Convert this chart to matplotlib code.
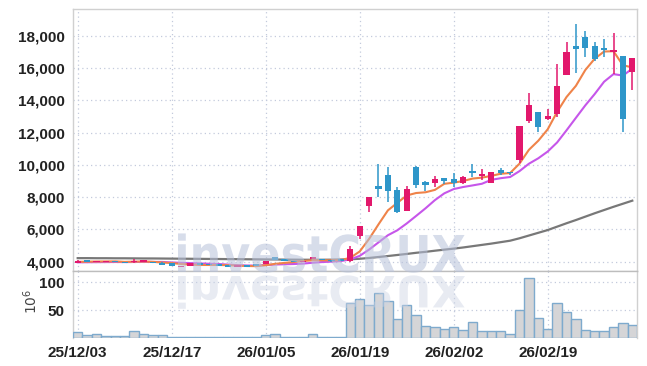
import numpy as np
import matplotlib
matplotlib.use("Agg")
import matplotlib.pyplot as plt
from matplotlib import font_manager
from matplotlib.textpath import TextPath
from matplotlib.patches import PathPatch
from matplotlib.font_manager import FontProperties
from matplotlib.transforms import Affine2D

# daily OHLC (KRW), 60 sessions
opens = [3900, 4100, 3960, 3970, 4020, 4000, 3950, 4000, 4000, 3940,
         3900, 3650, 3730, 3900, 3850, 3830, 3770, 3650, 3770, 3800,
         3860, 4270, 4150, 4040, 3980, 4150, 4150, 4100, 4150, 4050,
         5590, 7450, 8690, 9370, 8440, 7160, 9890, 8960, 8890, 9180,
         9100, 8850, 9620, 9310, 8900, 9680, 9520, 10300, 12730, 13250,
         12840, 13150, 15570, 17360, 17900, 17360, 17240, 17010, 16740, 15730]
highs = [4080, 4110, 4070, 4040, 4040, 4010, 4150, 4110, 4010, 3950,
         3910, 3760, 3910, 3910, 3860, 3840, 3780, 3780, 3780, 3810,
         4030, 4280, 4160, 4050, 4050, 4280, 4160, 4110, 4160, 4990,
         6220, 8000, 10030, 9850, 8650, 8710, 9900, 9000, 9310, 9190,
         9480, 9280, 10050, 9720, 9560, 9790, 9540, 12420, 14430, 13260,
         13440, 16250, 17630, 18730, 18290, 17590, 17780, 18150, 16750, 16610]
lows = [3890, 3970, 3950, 3960, 3960, 3890, 3940, 3990, 3910, 3770,
        3720, 3640, 3720, 3810, 3770, 3720, 3670, 3640, 3690, 3730,
        3850, 4090, 4050, 3970, 3970, 4140, 4080, 4010, 4050, 4000,
        5390, 7080, 8030, 7720, 7000, 7150, 8560, 8400, 8610, 8810,
        8650, 8820, 9270, 9050, 8880, 9370, 9400, 10100, 12570, 12020,
        12780, 12980, 15550, 15670, 16660, 16450, 16700, 15630, 12050, 14640]
closes = [4060, 3980, 4060, 4020, 3980, 3900, 4050, 4100, 3920, 3780,
          3730, 3750, 3900, 3820, 3780, 3730, 3680, 3770, 3700, 3740,
          4020, 4100, 4060, 3980, 4040, 4270, 4090, 4020, 4060, 4780,
          6210, 7990, 8520, 8400, 7100, 8500, 8750, 8750, 9140, 8980,
          8860, 9260, 9500, 9430, 9540, 9510, 9480, 12410, 13710, 12360,
          13040, 14880, 17010, 17180, 17260, 16540, 17110, 17110, 12820, 16600]

# moving averages as drawn (short / mid / long)
ma_short = [3990, 4000, 4010, 4015, 4020, 3988, 4002, 4010, 3990, 3950,
            3916, 3856, 3816, 3796, 3796, 3796, 3782, 3756, 3732, 3724,
            3782, 3866, 3924, 3980, 4040, 4090, 4088, 4080, 4096, 4244,
            4632, 5412, 6312, 7180, 7644, 8102, 8254, 8300, 8448, 8824,
            8896, 8998, 9148, 9206, 9318, 9448, 9492, 10074, 10930, 11494,
            12200, 13280, 14200, 14894, 15874, 16574, 17020, 17040, 16168, 16036]
ma_mid = [3960, 3965, 3970, 3975, 3980, 3975, 3980, 3990, 3985, 3985,
          3952, 3929, 3913, 3893, 3873, 3856, 3819, 3786, 3764, 3760,
          3789, 3824, 3840, 3856, 3882, 3936, 3977, 4002, 4038, 4142,
          4361, 4750, 5196, 5638, 5944, 6367, 6833, 7306, 7814, 8234,
          8499, 8626, 8724, 8827, 9071, 9172, 9245, 9611, 10068, 10406,
          10824, 11386, 12137, 12912, 13684, 14387, 15150, 15620, 15531, 15955]
ma_long = [4220, 4220, 4215, 4215, 4210, 4210, 4205, 4200, 4200, 4195,
           4190, 4185, 4180, 4175, 4170, 4165, 4160, 4155, 4150, 4145,
           4140, 4135, 4130, 4125, 4120, 4120, 4120, 4125, 4135, 4150,
           4180, 4230, 4290, 4350, 4415, 4480, 4550, 4610, 4680, 4745,
           4810, 4880, 4960, 5040, 5120, 5210, 5300, 5450, 5620, 5790,
           5960, 6170, 6380, 6580, 6790, 7000, 7200, 7400, 7590, 7780]

# volume in millions of shares
volume = [10, 6, 7.7, 3, 3, 3, 12.5, 7.7, 6, 5.5,
          2, 2, 2, 2, 2, 2, 2, 2, 2, 2,
          5, 7, 2, 2, 2, 7, 2, 2, 2, 62.5,
          69.6, 59.5, 80, 66, 34, 59, 41, 21, 19.6, 16,
          19.6, 14, 28.6, 12.5, 12.5, 12.5, 7, 50, 107, 35.7,
          16, 62.5, 46, 34, 14, 12.5, 12.5, 19.6, 26.8, 23]

tick_pos = [0, 10, 20, 30, 40, 50]
tick_labels = ["25/12/03", "25/12/17", "26/01/05", "26/01/19", "26/02/02", "26/02/19"]
price_ticks = [4000, 6000, 8000, 10000, 12000, 14000, 16000, 18000]
vol_ticks = [50, 100]

UP = "#e2186c"
DOWN = "#2e96c9"
GRID = "#c3cadc"

names = {f.name for f in font_manager.fontManager.ttflist}
lab_font = "Liberation Sans Narrow" if "Liberation Sans Narrow" in names else "Liberation Sans"

fig = plt.figure(figsize=(6.47, 3.66), dpi=100)
L, W = 73 / 647, 564 / 647
ax = fig.add_axes([L, 1 - 271 / 366, W, 262 / 366])
axv = fig.add_axes([L, 1 - 338 / 366, W, 67 / 366], sharex=ax)

x = np.arange(len(closes))
o = np.array(opens); c = np.array(closes)
hi = np.array(highs); lo = np.array(lows)
col = [UP if cc >= oo else DOWN for oo, cc in zip(o, c)]

# moving averages under the candles
ax.plot(x, ma_long, color="#787878", lw=1.6, zorder=2)
ax.plot(x, ma_mid, color="#c656ea", lw=1.5, zorder=3)
ax.plot(x, ma_short, color="#ef8349", lw=1.5, zorder=3)

# candles
ax.vlines(x, lo, hi, colors=col, lw=1.1, zorder=4)
body = np.maximum(np.abs(c - o), 90)
ax.bar(x, body, bottom=np.minimum(o, c), width=0.65, color=col, zorder=5)

ax.set_ylim(3423, 19654)
ax.set_xlim(-0.5, len(closes) - 0.5)
ax.set_yticks(price_ticks)
ax.set_yticklabels([f"{t:,}" for t in price_ticks])

# volume
axv.bar(x, volume, width=1.0, color="#d5d5d7", edgecolor="#7eaacd", lw=1.0, zorder=3)
axv.set_ylim(0, 120)
axv.set_yticks(vol_ticks)
axv.set_xticks(tick_pos)
axv.set_xticklabels(tick_labels)
axv.text(-0.075, 0.55, "$10^6$", transform=axv.transAxes, rotation=90,
         ha="center", va="center", fontsize=10, color="#444444")

for a in (ax, axv):
    a.grid(True, ls=(0, (1, 2.5)), color=GRID, lw=0.9)
    a.set_axisbelow(True)
    a.tick_params(length=0, pad=6, labelsize=11, labelcolor="#222222")
    for lab in a.get_yticklabels() + a.get_xticklabels():
        lab.set_fontfamily(lab_font)
        lab.set_fontweight("bold")
    for s in a.spines.values():
        s.set_color("#d0d0d0")
        s.set_linewidth(1.0)
ax.tick_params(labelbottom=False)
axv.spines["bottom"].set_visible(False)
axv.spines["top"].set_color("#bdbdbd")

# watermark with reflection
fp = FontProperties(family="DejaVu Sans", weight="bold")
tp = TextPath((0, 0), "investCRUX", size=50, prop=fp)
bb = tp.get_extents()
sx = 287 / bb.width
sy = 37 / (0.729 * 50)
base = 366 - 272
wm = Affine2D().translate(-bb.x0, 0).scale(sx, sy).translate(178, base)
fig.patches.append(PathPatch(tp, transform=wm, color="#b7c1da", alpha=0.55,
                             lw=0, zorder=10))
rf = Affine2D().translate(-bb.x0, 0).scale(sx, -sy * 0.85).translate(178, base - 4)
fig.patches.append(PathPatch(tp, transform=rf, color="#ccd3e4", alpha=0.45,
                             lw=0, zorder=10))

fig.savefig("out.png", dpi=100)
